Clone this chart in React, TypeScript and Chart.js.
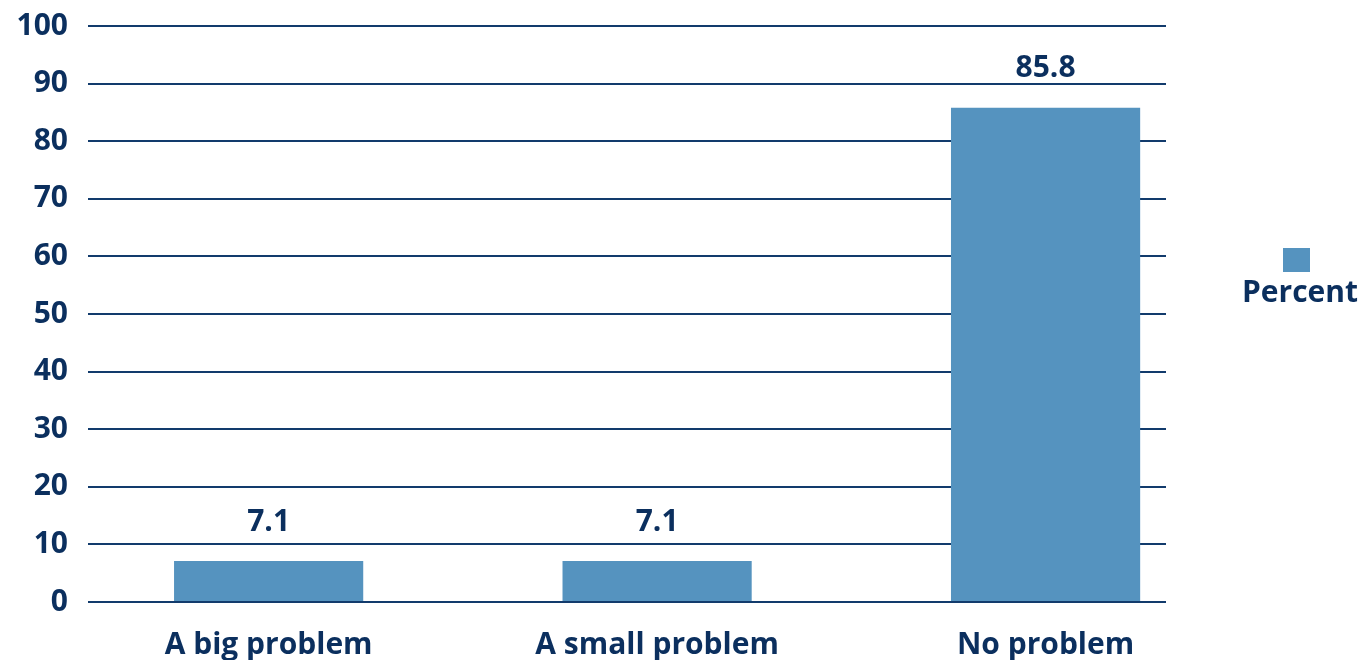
import React, { useEffect, useRef } from "react";
import { Chart, registerables } from "chart.js";

Chart.register(...registerables);

const categories = ["A big problem", "A small problem", "No problem"];
const percentValues = [7.1, 7.1, 85.8];
const seriesLabel = "Percent";
const yTicks = [0, 10, 20, 30, 40, 50, 60, 70, 80, 90, 100];

const BAR_COLOR = "#5593BF";
const TEXT_COLOR = "#0B2F5E";
const GRID_COLOR = "#123B6C";
const FONT = "'Open Sans'";
const FONT_SIZE = 30;

const valueLabelPlugin = {
  id: "valueLabels",
  afterDatasetsDraw(chart: any) {
    const ctx = chart.ctx;
    const meta = chart.getDatasetMeta(0);
    ctx.save();
    ctx.font = `bold ${FONT_SIZE}px ${FONT}`;
    ctx.fillStyle = TEXT_COLOR;
    ctx.textAlign = "center";
    ctx.textBaseline = "middle";
    meta.data.forEach((el: any, i: number) => {
      ctx.fillText(percentValues[i].toFixed(1), el.x, el.y - 39);
    });
    ctx.restore();
  },
};

const sideLegendPlugin = {
  id: "sideLegend",
  afterDraw(chart: any) {
    const ctx = chart.ctx;
    const ds = chart.data.datasets[0];
    ctx.save();
    ctx.fillStyle = ds.backgroundColor;
    ctx.fillRect(1283, 248, 27, 24);
    ctx.font = `bold ${FONT_SIZE}px ${FONT}`;
    ctx.fillStyle = TEXT_COLOR;
    ctx.textAlign = "center";
    ctx.textBaseline = "middle";
    ctx.fillText(ds.label, 1300, 293);
    ctx.restore();
  },
};

export default function App() {
  const ref = useRef<HTMLCanvasElement>(null);
  useEffect(() => {
    if (!ref.current) return;
    const chart = new Chart(ref.current, {
      type: "bar",
      data: {
        datasets: [
          {
            label: seriesLabel,
            data: percentValues.map((v, i) => ({ x: i, y: v })),
            backgroundColor: BAR_COLOR,
            barPercentage: 0.487,
            categoryPercentage: 1,
          },
        ],
      },
      options: {
        animation: false,
        responsive: false,
        maintainAspectRatio: false,
        layout: { padding: { top: 26, right: 203, left: 0, bottom: 0 } },
        plugins: { legend: { display: false }, tooltip: { enabled: false } },
        scales: {
          x: {
            type: "linear",
            min: -0.465,
            max: 2.31,
            offset: false,
            afterFit: (scale: any) => {
              scale.height = 58;
              scale.paddingLeft = 0;
              scale.paddingRight = 0;
            },
            afterBuildTicks: (scale: any) => {
              scale.ticks = categories.map((_, i) => ({ value: i }));
            },
            grid: { display: false },
            border: { display: false },
            ticks: {
              autoSkip: false,
              maxRotation: 0,
              padding: 17,
              color: TEXT_COLOR,
              font: { family: FONT, weight: "bold", size: FONT_SIZE },
              callback: (v: any) =>
                Number.isInteger(v) && categories[v] !== undefined ? categories[v] : "",
            },
          },
          y: {
            min: 0,
            max: 100,
            afterFit: (scale: any) => {
              scale.width = 88;
              scale.paddingTop = 0;
              scale.paddingBottom = 0;
            },
            afterBuildTicks: (scale: any) => {
              scale.ticks = yTicks.map((v) => ({ value: v }));
            },
            grid: { color: GRID_COLOR, lineWidth: 2, drawTicks: false },
            border: { display: false },
            ticks: {
              padding: 20,
              color: TEXT_COLOR,
              font: { family: FONT, weight: "bold", size: FONT_SIZE },
            },
          },
        },
      },
      plugins: [valueLabelPlugin, sideLegendPlugin],
    } as any);
    return () => chart.destroy();
  }, []);
  return (
    <div style={{ position: "absolute", left: 0, top: 0, width: 1369, height: 660, background: "#fff" }}>
      <canvas ref={ref} width={1369} height={660} style={{ width: 1369, height: 660 }} />
    </div>
  );
}
